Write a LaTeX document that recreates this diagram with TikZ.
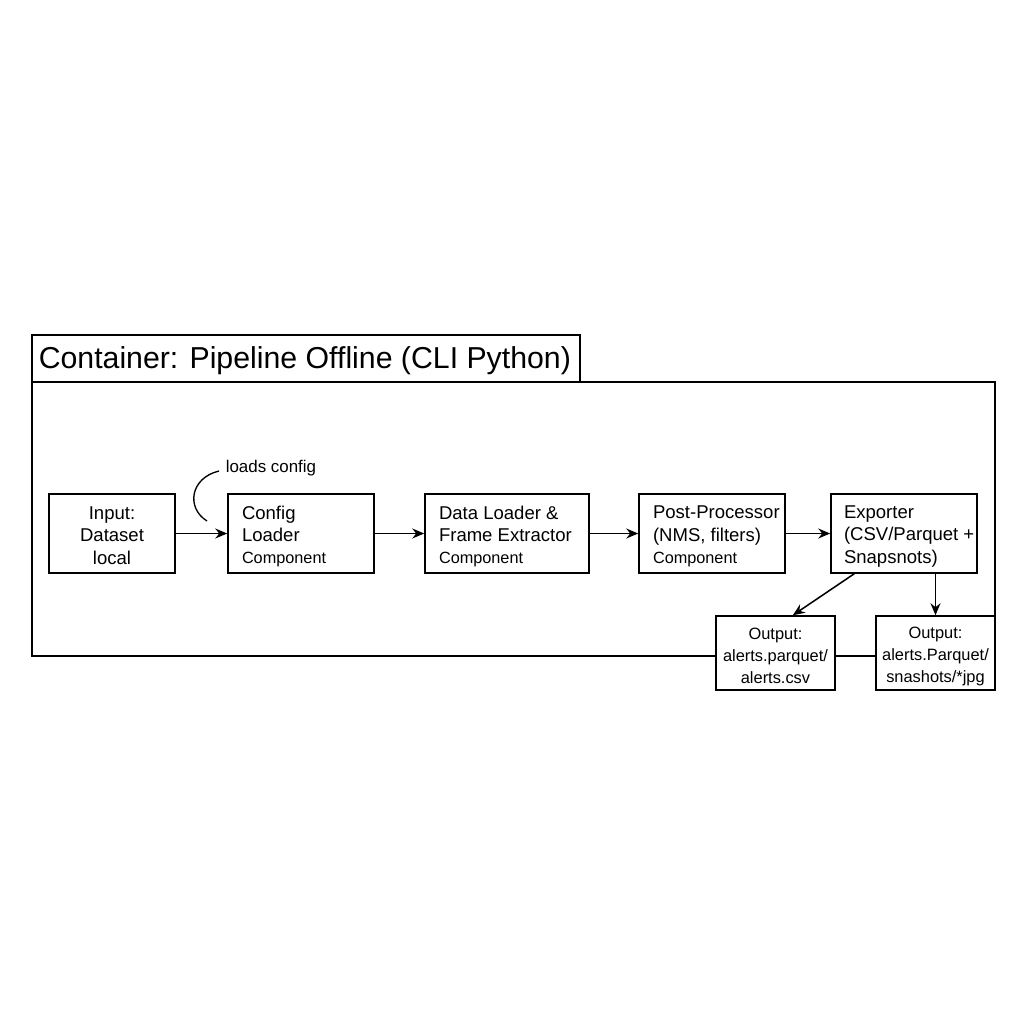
\documentclass[tikz,border=0pt]{standalone}
\usepackage{fontspec}
\setmainfont{Liberation Sans}
\usetikzlibrary{arrows.meta,calc}
\begin{document}
\begin{tikzpicture}[x=0.75pt,y=-0.75pt,
  line width=1.15pt,
  box/.style={draw,fill=white,inner sep=0pt,minimum height=59.25pt},
  obox/.style={draw,fill=white,inner sep=0pt,minimum width=89.25pt,minimum height=55.5pt},
  txt/.style={inner sep=0pt,align=left,font=\fontsize{13.9}{16.7}\selectfont},
  otxt/.style={inner sep=0pt,align=center,font=\fontsize{12.3}{16.5}\selectfont},
  arr/.style={-{Stealth[length=9pt,width=7.5pt,inset=3pt]}}]
\useasboundingbox[fill=white] (0,0) rectangle (1024,1024);
% container
\node[draw,fill=white,minimum width=411pt,minimum height=35.25pt,inner sep=0pt] (tab) at (306,358.5) {};
\node[anchor=west,inner sep=0pt,font=\fontsize{22.7}{26}\selectfont] (title) at (38,361) {Container: Pipeline Offline (CLI Python)};
\draw (32,382) rectangle (995,656);
% boxes
\node[box,minimum width=94.5pt] (in) at (112,533.5) {};
\node[box,minimum width=109.5pt] (cfg) at (301,533.5) {};
\node[box,minimum width=123pt] (dl) at (507,533.5) {};
\node[box,minimum width=109.5pt] (pp) at (712,533.5) {};
\node[box,minimum width=109.5pt] (ex) at (904,533.5) {};
\node[obox] (o1) at (775.5,653) {};
\node[obox] (o2) at (935.5,653) {};
% texts
\node[txt,align=center] (tin) at ($(in.center)+(0,2)$) {Input:\\Dataset\\local};
\node[txt,anchor=west] (tcfg) at ($(cfg.west)+(14,3)$) {Config\\Loader\\{\fontsize{12.2}{16.7}\selectfont Component}};
\node[txt,anchor=west] (tdl) at ($(dl.west)+(14,3)$) {Data Loader \&\\Frame Extractor\\{\fontsize{12.2}{16.7}\selectfont Component}};
\node[txt,anchor=west] (tpp) at ($(pp.west)+(14,3)$) {Post-Processor\\(NMS, filters)\\{\fontsize{12.2}{16.7}\selectfont Component}};
\node[txt,anchor=west] (tex) at ($(ex.west)+(13,3)$) {Exporter\\(CSV/Parquet +\\Snapsnots)};
\node[otxt] (to1) at ($(o1.center)+(0,3)$) {Output:\\alerts.parquet/\\alerts.csv};
\node[otxt] (to2) at ($(o2.center)+(0,3)$) {Output:\\alerts.Parquet/\\snashots/*jpg};
% arrows
\draw[arr] (in.east) -- (cfg.west);
\draw[arr] (cfg.east) -- (dl.west);
\draw[arr] (dl.east) -- (pp.west);
\draw[arr] (pp.east) -- (ex.west);
\draw[arr] ([xshift=18pt]ex.south west) -- ([xshift=13pt]o1.north);
\draw[arr] (ex.south -| o2.north) -- (o2.north);
% loads config
\node[anchor=west,inner sep=0pt,font=\fontsize{12.7}{15}\selectfont] (lc) at (225,468) {loads config};
\coordinate (lcend) at (207,521);
\draw[line width=1pt] ($(lc.west)+(-6,3)$) .. controls (190,478) and (186,508) .. (lcend);
\end{tikzpicture}
\end{document}
